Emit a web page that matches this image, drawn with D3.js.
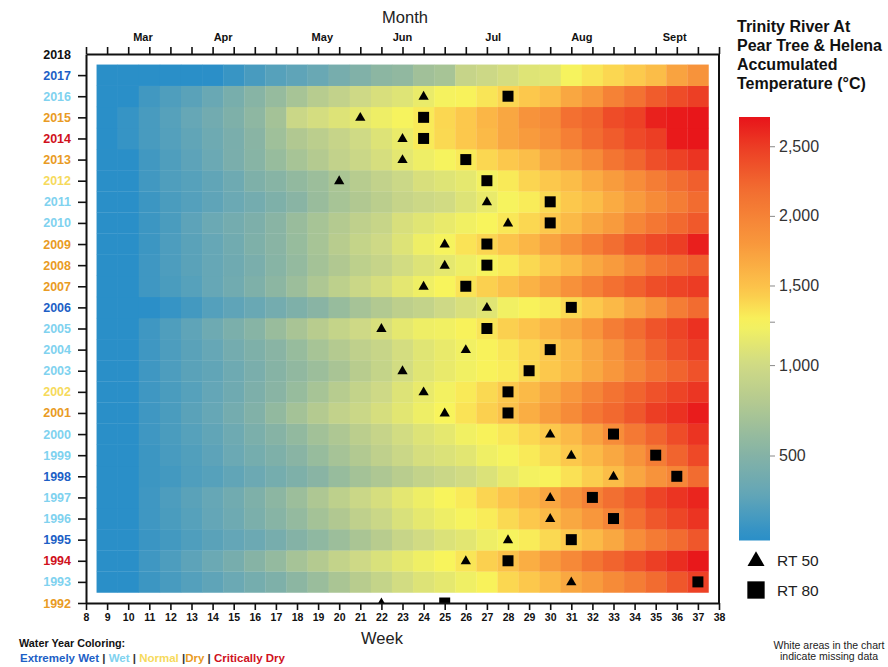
<!DOCTYPE html>
<html>
<head>
<meta charset="utf-8">
<script src="https://cdn.jsdelivr.net/npm/d3@7"></script>
<style>
  body { margin: 0; background: #fff; }
  svg { font-family: Arial, "Liberation Sans", sans-serif; }
</style>
</head>
<body>
<div id="chart"></div>
<script>
// ---- data ----
const weeks = [9,10,11,12,13,14,15,16,17,18,19,20,21,22,23,24,25,26,27,28,29,30,31,32,33,34,35,36,37];
const weekTicks = [8,9,10,11,12,13,14,15,16,17,18,19,20,21,22,23,24,25,26,27,28,29,30,31,32,33,34,35,36,37,38];
const years = [1992,1993,1994,1995,1996,1997,1998,1999,2000,2001,2002,2003,2004,2005,2006,2007,2008,2009,2010,2011,2012,2013,2014,2015,2016,2017,2018];
const waterYearType = ["Dry","Wet","Critically Dry","Extremely Wet","Wet","Wet","Extremely Wet","Wet","Wet","Dry","Normal","Wet","Wet","Wet","Extremely Wet","Dry","Dry","Dry","Wet","Wet","Normal","Dry","Critically Dry","Dry","Wet","Extremely Wet",""];
const months = ["Mar","Apr","May","Jun","Jul","Aug","Sept"];
const monthWeek = [10.7, 14.5, 19.2, 23.0, 27.3, 31.5, 35.9];

// RT 50 / RT 80 week for 1992..2017 (null = none)
const rt50 = [22,31,26,28,30,30,33,31,30,25,24,23,26,22,27,24,25,25,28,27,20,23,23,21,24,null];
const rt80 = [25,37,28,31,33,32,36,35,33,28,28,29,30,27,31,26,27,27,30,30,27,26,24,24,28,null];

const legendTicks = [500, 1000, 1500, 2000, 2500];

// accumulated temperature (°C) for weeks 9..37
const acc1993 = [15,40,120,170,220,270,330,400,460,550,640,740,830,920,1020,1080,1130,1190,1250,1380,1450,1560,1680,1780,1920,2050,2200,2330,2470];
const acc1994 = [15,40,130,190,260,330,410,510,600,710,800,910,990,1060,1130,1190,1240,1310,1410,1500,1640,1780,1940,2120,2250,2360,2480,2580,2690];
const acc1995 = [15,40,110,150,200,250,290,340,410,500,570,650,740,830,940,1010,1070,1110,1180,1230,1280,1370,1450,1550,1680,1900,2060,2200,2330];
const acc1996 = [15,40,130,180,230,290,350,440,520,600,700,780,880,960,1060,1130,1180,1230,1280,1370,1450,1550,1680,1810,1970,2160,2330,2440,2540];
const acc1997 = [15,40,130,190,250,300,370,460,550,650,760,870,960,1040,1120,1180,1240,1290,1390,1480,1580,1700,1850,2010,2170,2300,2450,2540,2620];
const acc1998 = [15,40,120,150,200,230,280,340,400,460,530,620,700,760,840,910,960,1010,1070,1150,1210,1250,1330,1420,1530,1700,1850,1960,2200];
const acc1999 = [15,40,120,170,210,260,330,400,460,530,620,710,790,880,960,1040,1070,1110,1190,1230,1290,1370,1450,1550,1680,1840,2050,2250,2420];
const acc2000 = [15,40,130,180,230,280,350,440,510,590,690,760,850,930,1020,1080,1130,1200,1250,1300,1380,1450,1560,1720,1900,2080,2250,2400,2540];
const acc2001 = [15,40,130,180,250,300,390,480,590,700,800,900,960,1040,1110,1180,1240,1320,1410,1500,1640,1770,1920,2100,2220,2330,2490,2560,2670];
const acc2002 = [15,40,130,180,230,290,360,450,530,620,720,820,910,990,1080,1150,1210,1290,1370,1450,1550,1680,1810,1970,2140,2250,2360,2450,2530];
const acc2003 = [15,40,130,190,250,280,350,430,510,580,650,730,830,920,1020,1100,1150,1200,1250,1280,1370,1450,1550,1680,1810,1970,2140,2250,2360];
const acc2004 = [15,40,130,190,250,300,390,460,530,620,720,800,880,940,1030,1100,1150,1200,1250,1300,1380,1450,1550,1700,1850,2050,2250,2380,2490];
const acc2005 = [15,40,130,200,270,350,440,520,630,730,830,920,990,1050,1130,1180,1200,1250,1310,1410,1480,1580,1680,1830,2050,2200,2350,2450,2560];
const acc2006 = [15,30,45,90,150,220,270,320,390,460,530,620,710,790,865,910,990,1050,1100,1200,1250,1290,1370,1450,1560,1700,1850,2050,2200];
const acc2007 = [15,40,130,180,230,300,370,460,550,650,760,870,960,1040,1120,1190,1240,1320,1410,1500,1610,1720,1860,2010,2160,2270,2390,2450,2500];
const acc2008 = [15,40,130,190,250,300,360,430,520,600,700,780,870,930,1020,1080,1130,1180,1230,1290,1370,1450,1550,1680,1780,1920,2100,2200,2280];
const acc2009 = [15,40,120,190,250,300,370,460,530,620,720,830,920,990,1080,1180,1230,1320,1390,1480,1580,1720,1860,2030,2180,2320,2420,2490,2650];
const acc2010 = [15,40,120,180,260,330,390,450,530,630,720,800,880,940,1050,1100,1150,1200,1240,1300,1380,1450,1550,1680,1780,1960,2100,2220,2320];
const acc2011 = [15,40,120,180,220,270,330,390,460,530,630,720,780,850,930,980,1010,1080,1150,1230,1280,1370,1450,1530,1660,1780,1920,2050,2200];
const acc2012 = [15,40,140,200,230,280,350,460,520,590,650,740,820,900,970,1050,1090,1130,1210,1290,1390,1450,1530,1660,1770,1900,2050,2180,2280];
const acc2013 = [15,40,140,200,260,330,430,520,620,720,800,900,960,1040,1120,1180,1230,1290,1380,1450,1520,1680,1780,1920,2120,2240,2380,2470,2540];
const acc2014 = [15,90,170,220,280,350,430,530,670,780,850,930,1000,1080,1160,1290,1370,1450,1550,1690,1780,1860,2030,2200,2300,2410,2490,2680,2700];
const acc2015 = [15,90,170,230,300,380,460,560,700,960,1030,1080,1130,1180,1230,1290,1380,1450,1580,1690,1850,1920,2160,2240,2400,2470,2640,2680,2700];
const acc2016 = [15,40,140,200,250,320,420,520,610,720,820,900,990,1050,1090,1160,1220,1250,1310,1390,1450,1530,1690,1800,2000,2150,2300,2400,2480];
const acc2017 = [15,20,25,30,35,45,100,170,230,270,320,410,480,550,580,680,720,930,980,1030,1090,1110,1230,1310,1380,1440,1530,1720,1850];

const accYears = [1993,1994,1995,1996,1997,1998,1999,2000,2001,2002,2003,2004,2005,2006,2007,2008,2009,2010,2011,2012,2013,2014,2015,2016,2017];
const accRows = [acc1993,acc1994,acc1995,acc1996,acc1997,acc1998,acc1999,acc2000,acc2001,acc2002,acc2003,acc2004,acc2005,acc2006,acc2007,acc2008,acc2009,acc2010,acc2011,acc2012,acc2013,acc2014,acc2015,acc2016,acc2017];

// ---- styles ----
const typeColor = {
    "Extremely Wet": "#1d5fc6",
    "Wet": "#80d2ef",
    "Normal": "#f6da5c",
    "Dry": "#e99b24",
    "Critically Dry": "#d0111c"
};

const width = 888, height = 667;

const svg = d3.select("#chart")
    .append("svg")
    .attr("width", width)
    .attr("height", height);

const x = d3.scaleLinear().domain([8, 38]).range([86, 719]);
const y = d3.scaleLinear().domain([1992, 2018]).range([603, 54]);

const color = d3.scaleLinear()
    .domain([40, 300, 500, 800, 1000, 1240, 1450, 1800, 2200, 2500, 2710])
    .range(["#2a8fc8", "#66a7b6", "#84b2a6", "#b4ca90", "#cfda85", "#f8f45c", "#fcc84c", "#f8983c", "#f26c30", "#ec3c24", "#e8141a"])
    .clamp(true);

// heatmap cells
const cells = [];
accRows.forEach(function (row, i) {
    row.forEach(function (v, j) {
        cells.push({ year: accYears[i], week: weeks[j], value: v });
    });
});

svg.append("g")
    .selectAll("rect")
    .data(cells)
    .join("rect")
    .attr("x", d => x(d.week - 0.5))
    .attr("y", d => y(d.year + 0.5))
    .attr("width", d => x(d.week + 0.5) - x(d.week - 0.5) + 0.3)
    .attr("height", d => y(d.year - 0.5) - y(d.year + 0.5) + 0.3)
    .attr("fill", d => color(d.value));

// RT markers, clipped to the plot frame
svg.append("clipPath").attr("id", "plotClip")
    .append("rect")
    .attr("x", x(8)).attr("y", y(2018))
    .attr("width", x(38) - x(8)).attr("height", y(1992) - y(2018));

const markerG = svg.append("g").attr("clip-path", "url(#plotClip)");
const markerYears = years.slice(0, rt50.length);

markerG.selectAll(".rt50")
    .data(markerYears.filter((d, i) => rt50[i] != null))
    .join("path")
    .attr("class", "rt50")
    .attr("d", d3.symbol(d3.symbolTriangle, 46))
    .attr("transform", d => `translate(${x(rt50[d - 1992])},${y(d) + 0.5})`)
    .attr("fill", "#000");

markerG.selectAll(".rt80")
    .data(markerYears.filter((d, i) => rt80[i] != null))
    .join("path")
    .attr("class", "rt80")
    .attr("d", d3.symbol(d3.symbolSquare, 121))
    .attr("transform", d => `translate(${x(rt80[d - 1992])},${y(d)})`)
    .attr("fill", "#000");

// axes
function styleAxis(g) {
    g.select(".domain").attr("stroke", "#111").attr("stroke-width", 2);
    g.selectAll(".tick line").attr("stroke", "#111").attr("stroke-width", 1.6);
    g.selectAll(".tick text").attr("fill", "#111").attr("font-weight", "bold");
}

const xBottom = svg.append("g")
    .attr("transform", `translate(0,${y(1992)})`)
    .call(d3.axisBottom(x).tickValues(weekTicks).tickFormat(d3.format("d")).tickSize(7).tickSizeOuter(0))
    .call(styleAxis);
xBottom.selectAll(".tick text").attr("font-size", 10.5).attr("y", 11);

svg.append("g")
    .attr("transform", `translate(0,${y(2018)})`)
    .call(d3.axisTop(x).tickValues(weekTicks).tickFormat("").tickSize(7).tickSizeOuter(0))
    .call(styleAxis);

const yLeft = svg.append("g")
    .attr("transform", `translate(${x(8)},0)`)
    .call(d3.axisLeft(y).tickValues(years).tickFormat(d3.format("d")).tickSize(8).tickSizeOuter(0))
    .call(styleAxis);
yLeft.selectAll(".tick text")
    .attr("font-size", 12.5)
    .attr("x", -15)
    .attr("fill", d => typeColor[waterYearType[d - 1992]] || "#111");
yLeft.selectAll(".tick").filter(d => d === 2018).select("line").remove();

// right frame
svg.append("line")
    .attr("x1", x(38)).attr("x2", x(38))
    .attr("y1", y(2018)).attr("y2", y(1992))
    .attr("stroke", "#111").attr("stroke-width", 2);

// month labels
svg.append("g")
    .selectAll("text")
    .data(months)
    .join("text")
    .attr("x", (d, i) => x(monthWeek[i]))
    .attr("y", 41)
    .attr("text-anchor", "middle")
    .attr("font-size", 11)
    .attr("font-weight", "bold")
    .attr("fill", "#111")
    .text(d => d);

svg.append("text")
    .attr("x", 405).attr("y", 22.5)
    .attr("text-anchor", "middle")
    .attr("font-size", 16.5)
    .attr("fill", "#222")
    .text("Month");

svg.append("text")
    .attr("x", 382).attr("y", 644)
    .attr("text-anchor", "middle")
    .attr("font-size", 16.5)
    .attr("fill", "#222")
    .text("Week");

// legend title
const titleLines = ["Trinity River At", "Pear Tree & Helena", "Accumulated", "Temperature (°C)"];
svg.append("g")
    .selectAll("text")
    .data(titleLines)
    .join("text")
    .attr("x", 737)
    .attr("y", (d, i) => 31.5 + i * 19)
    .attr("font-size", 16)
    .attr("font-weight", "bold")
    .attr("fill", "#111")
    .text(d => d);

// colour legend (diverging around yellow centre)
const legendY = d3.scaleLinear().domain([30, 1240, 2710]).range([540.5, 321.7, 117]);
const barX = 739, barW = 31;

const grad = svg.append("defs").append("linearGradient")
    .attr("id", "tempGrad")
    .attr("x1", 0).attr("y1", 1).attr("x2", 0).attr("y2", 0);
grad.selectAll("stop")
    .data(d3.range(0, 1.0001, 0.025))
    .join("stop")
    .attr("offset", d => d)
    .attr("stop-color", d => color(legendY.invert(legendY(30) + d * (legendY(2710) - legendY(30)))));

svg.append("rect")
    .attr("x", barX).attr("y", legendY(2710))
    .attr("width", barW).attr("height", legendY(30) - legendY(2710))
    .attr("fill", "url(#tempGrad)");

const legAxis = svg.append("g")
    .attr("transform", `translate(${barX + barW},0)`)
    .call(d3.axisRight(legendY).tickValues(legendTicks.concat([1240])).tickFormat(d => d === 1240 ? "" : d3.format(",")(d)).tickSize(5).tickSizeOuter(0));
legAxis.select(".domain").remove();
legAxis.selectAll(".tick line").attr("stroke", "#888").attr("stroke-width", 1);
legAxis.selectAll(".tick text").attr("font-size", 16).attr("fill", "#333").attr("x", 9);

// RT symbol legend
svg.append("path")
    .attr("d", d3.symbol(d3.symbolTriangle, 125))
    .attr("transform", "translate(756,561)")
    .attr("fill", "#000");
svg.append("path")
    .attr("d", d3.symbol(d3.symbolSquare, 300))
    .attr("transform", "translate(756,590)")
    .attr("fill", "#000");
svg.append("text").attr("x", 777).attr("y", 566).attr("font-size", 15.5).attr("fill", "#222").text("RT 50");
svg.append("text").attr("x", 777).attr("y", 596).attr("font-size", 15.5).attr("fill", "#222").text("RT 80");

// water year colouring key
svg.append("text")
    .attr("x", 19).attr("y", 647)
    .attr("font-size", 10.8)
    .attr("font-weight", "bold")
    .attr("fill", "#111")
    .text("Water Year Coloring:");

const keyParts = [
    ["Extremely Wet", typeColor["Extremely Wet"]], [" | ", "#333"],
    ["Wet", typeColor["Wet"]], [" | ", "#333"],
    ["Normal", typeColor["Normal"]], [" |", "#333"],
    ["Dry", typeColor["Dry"]], [" | ", "#333"],
    ["Critically Dry", typeColor["Critically Dry"]]
];
svg.append("text")
    .attr("x", 20).attr("y", 662)
    .attr("font-size", 11.5)
    .attr("font-weight", "bold")
    .attr("xml:space", "preserve")
    .selectAll("tspan")
    .data(keyParts)
    .join("tspan")
    .attr("fill", d => d[1])
    .text(d => d[0]);

// missing data note
svg.append("g")
    .selectAll("text")
    .data(["White areas in the chart", "indicate missing data"])
    .join("text")
    .attr("x", 829)
    .attr("y", (d, i) => 649 + i * 11)
    .attr("text-anchor", "middle")
    .attr("font-size", 10.5)
    .attr("fill", "#222")
    .text(d => d);
</script>
</body>
</html>
